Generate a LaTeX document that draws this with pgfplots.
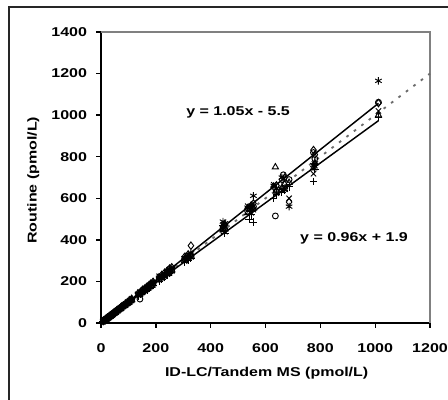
\documentclass[border=0pt]{standalone}
\usepackage{fontspec}
\setmainfont{Liberation Sans}[FakeStretch=1.25]
\usepackage{pgfplots}
\pgfplotsset{compat=1.18}
\usepackage{pgfplotstable}

\pgfplotstableread{
x y
8 9
12 13
15 15
18 19
21 22
24 26
27 28
30 32
33 34
36 38
40 42
44 45
48 50
52 55
56 58
62 65
68 70
75 79
82 85
90 94
98 101
105 110
112 116
135 142
145 150
152 160
160 166
168 175
175 182
182 190
190 198
212 220
222 232
232 242
242 252
250 262
258 268
305 318
318 330
328 372
445 465
452 472
535 552
548 566
556 575
630 655
640 662
660 690
670 700
686 582
775 832
780 810
1012 1058
}\tabA

\pgfplotstableread{
x y
8 8
12 11
15 16
18 17
21 21
24 23
27 28
30 29
33 33
36 35
40 41
44 43
48 47
52 53
56 55
62 61
68 69
75 74
82 83
90 88
98 99
105 103
112 113
142 115
145 146
152 150
160 161
168 166
175 176
182 180
190 193
212 210
222 224
232 230
242 245
250 248
258 256
305 308
318 322
328 325
445 455
452 450
535 538
548 555
556 560
636 515
640 630
665 713
670 650
686 690
775 820
780 790
1012 1062
}\tabB

\pgfplotstableread{
x y
8 9
12 12
15 14
18 18
21 20
24 24
27 27
30 30
33 32
36 36
40 39
44 44
48 48
52 51
56 56
62 62
68 67
75 75
82 81
90 90
98 97
105 105
112 111
135 134
145 144
152 153
160 158
168 168
175 173
182 183
190 188
212 211
222 220
232 233
242 240
250 251
258 255
305 302
318 316
328 326
445 448
452 452
535 530
548 545
556 552
636 750
640 635
660 650
670 668
686 675
775 745
780 770
1012 1000
}\tabC

\pgfplotstableread{
x y
8 10
12 14
15 17
18 20
21 23
24 25
27 29
30 31
33 35
36 37
40 43
44 46
48 49
52 54
56 59
62 63
68 72
75 77
82 86
90 92
98 102
105 108
112 117
135 140
145 152
152 156
160 165
168 172
175 180
182 186
190 196
212 218
222 228
232 238
242 250
250 258
258 264
305 312
318 328
328 335
445 488
452 480
535 555
548 565
556 612
630 660
640 645
660 700
670 640
686 560
775 760
780 768
1012 1165
}\tabD

\pgfplotstableread{
x y
8 7
12 12
15 14
18 18
21 20
24 23
27 26
30 29
33 32
36 34
40 38
44 42
48 47
52 50
56 54
62 60
68 66
75 72
82 80
90 87
98 95
105 102
112 109
135 138
145 141
152 148
160 155
168 163
175 170
182 177
190 184
212 225
222 216
232 225
242 235
250 242
258 250
305 298
318 310
328 318
445 470
452 440
535 562
548 530
556 545
630 665
640 625
660 640
670 645
686 600
775 718
780 757
1012 1020
}\tabE

\pgfplotstableread{
x y
8 8
12 11
15 13
18 17
21 19
24 22
27 25
30 28
33 31
36 33
40 37
44 41
48 45
52 49
56 52
62 58
68 64
75 70
82 78
90 85
98 92
105 99
112 106
135 128
145 137
152 144
160 151
168 158
175 166
182 172
190 180
212 202
222 210
232 220
242 229
250 237
258 245
305 290
318 302
328 312
445 470
452 430
540 500
548 520
556 485
630 600
640 620
660 630
670 640
686 655
775 680
780 740
1012 990
}\tabF

\begin{document}
\begin{tikzpicture}[font=\fontsize{9.6}{11}\selectfont\bfseries]
\useasboundingbox (0,0) rectangle (336pt,299.25pt);
\draw[line width=0.8pt, black!85] (6.75pt,-2pt) -- (6.75pt,294pt) -- (340pt,294pt);
\begin{axis}[
  at={(75.75pt,57pt)}, anchor=south west,
  scale only axis, width=246.75pt, height=218.25pt,
  xmin=0, xmax=1200, ymin=0, ymax=1400,
  xtick={0,200,400,600,800,1000,1200}, ytick={0,200,400,600,800,1000,1200,1400},
  xticklabels={0,200,400,600,800,1000,1200},
  yticklabels={0,200,400,600,800,1000,1200,1400},
  axis lines*=left,
  axis line style={line width=1.1pt, black},
  tick align=outside, major tick length=3.5pt,
  tick style={line width=1pt, black},
  ticklabel style={font=\fontsize{9.6}{11}\selectfont\bfseries},
  yticklabel style={xshift=-3.5pt},
  xticklabel style={yshift=-8.5pt},
  clip=false,
]
\draw[gray, line width=0.8pt] (rel axis cs:0,1) -- (rel axis cs:1,1) -- (rel axis cs:1,0);
\addplot[only marks, mark=diamond, mark size=2.8pt, black, mark options={line width=0.7pt}] table {\tabA};
\addplot[only marks, mark=o, mark size=2.2pt, black, mark options={line width=0.7pt}] table {\tabB};
\addplot[only marks, mark=triangle, mark size=2.7pt, black, mark options={line width=0.7pt}] table {\tabC};
\addplot[only marks, mark=asterisk, mark size=2.8pt, black, mark options={line width=0.7pt}] table {\tabD};
\addplot[only marks, mark=x, mark size=2.8pt, black, mark options={line width=0.7pt}] table {\tabE};
\addplot[only marks, mark=+, mark size=2.8pt, black, mark options={line width=0.7pt}] table {\tabF};
\addplot[no marks, sharp plot, gray!85!black, line width=1.4pt, dash pattern=on 2pt off 5pt] coordinates {(0,0) (1200,1200)};
\addplot[no marks, sharp plot, black, line width=1.1pt] coordinates {(10,5) (1012,1057)};
\addplot[no marks, sharp plot, black, line width=1.1pt] coordinates {(10,11.5) (1012,973.4)};
\node at (axis cs:500,1015) {y = 1.05x - 5.5};
\node at (axis cs:923,409) {y = 0.96x + 1.9};
\end{axis}
\node at (200pt,19.5pt) {ID-LC/Tandem MS (pmol/L)};
\node[rotate=90] at (25pt,164pt) {Routine (pmol/L)};
\end{tikzpicture}
\end{document}
